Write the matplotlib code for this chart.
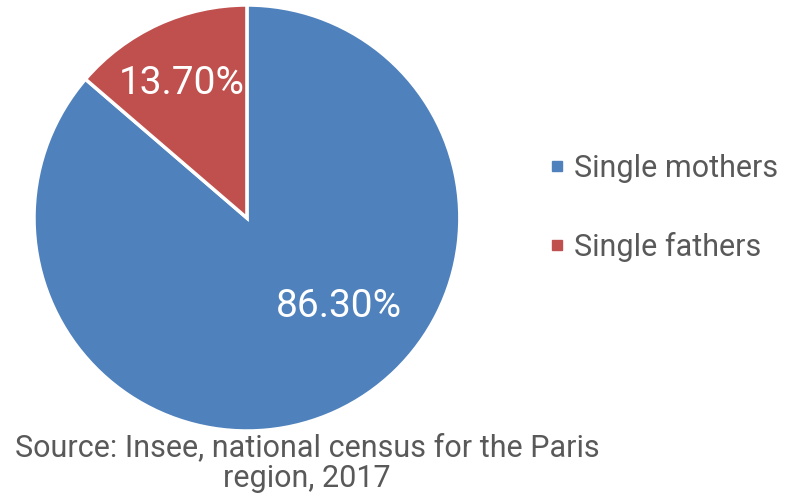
import matplotlib.pyplot as plt
from matplotlib.lines import Line2D
import numpy as np

labels = ["Single mothers", "Single fathers"]
shares = [86.3, 13.7]
colors = ["#4F81BD", "#C0504D"]
source = "Source: Insee, national census for the Paris\nregion, 2017"

plt.rcParams["font.family"] = ["Roboto", "DejaVu Sans"]
grey = "#595959"

fig = plt.figure(figsize=(8.02, 4.95), dpi=100)
ax = fig.add_axes([0.0424, 0.1293, 0.531, 0.8606])

wedges, texts, autotexts = ax.pie(
    shares,
    colors=colors,
    startangle=90,
    counterclock=False,
    autopct=lambda p: f"{p:.2f}%",
    wedgeprops={"edgecolor": "white", "linewidth": 2.5},
    textprops={"color": "white", "fontsize": 28},
)
ax.set_aspect("auto")
ax.set_xlim(-1, 1)
ax.set_ylim(-1, 1)

# label spots roughly where Excel put them (angle in degrees, radius fraction)
spots = [(-44, 0.6), (116, 0.7)]
for t, (ang, r) in zip(autotexts, spots):
    a = np.deg2rad(ang)
    t.set_position((r * np.cos(a), r * np.sin(a)))
    t.set_ha("center")
    t.set_va("center")

handles = [Line2D([], [], marker="s", linestyle="none", markersize=7,
                  markerfacecolor=c, markeredgecolor=c) for c in colors]
fig.legend(handles, labels, loc="center left",
           bbox_to_anchor=(548 / 802, 1 - 208 / 495), frameon=False,
           fontsize=22, labelcolor=grey, handlelength=0.6, handletextpad=0.25,
           labelspacing=1.6, borderpad=0, borderaxespad=0)

fig.text(307 / 802, 1 - 463 / 495, source, ha="center", va="center",
         fontsize=22, color=grey, linespacing=1.08)

fig.savefig("out.png", dpi=100)
